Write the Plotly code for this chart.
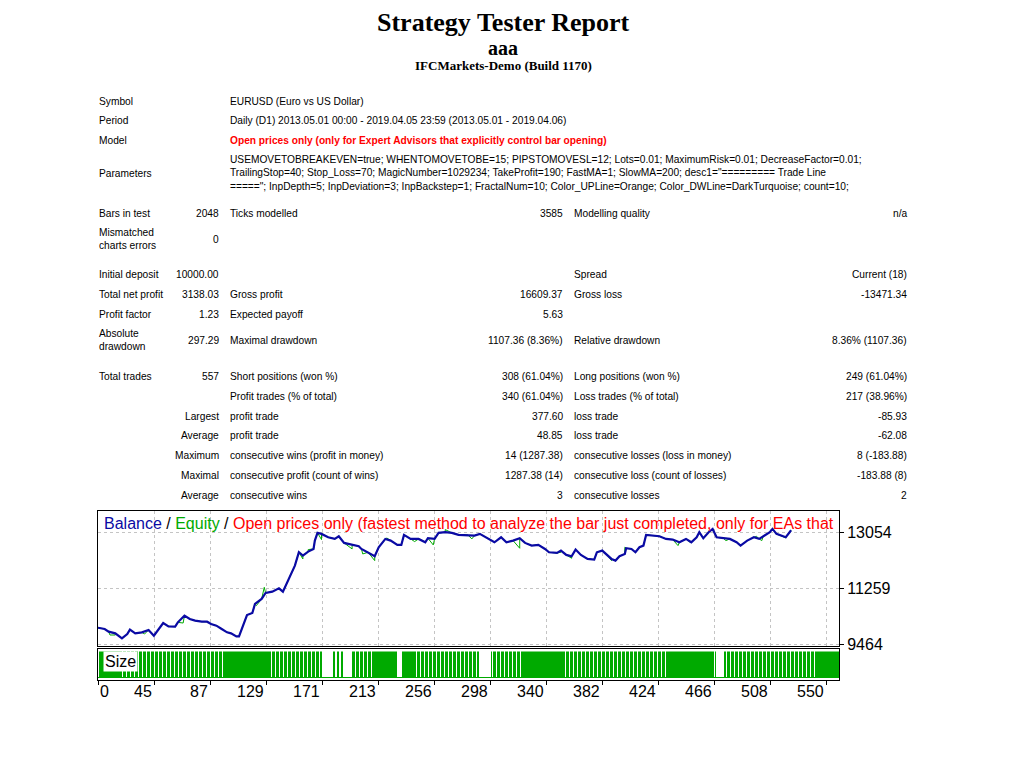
import plotly.graph_objects as go

# ---- report header / table text ----
title_main = "Strategy Tester Report"
title_name = "aaa"
title_server = "IFCMarkets-Demo (Build 1170)"

info_labels = ["Symbol", "Period", "Model", "Parameters"]
info_values = [
    "EURUSD (Euro vs US Dollar)",
    "Daily (D1) 2013.05.01 00:00 - 2019.04.05 23:59 (2013.05.01 - 2019.04.06)",
    "Open prices only (only for Expert Advisors that explicitly control bar opening)",
    "USEMOVETOBREAKEVEN=true; WHENTOMOVETOBE=15; PIPSTOMOVESL=12; Lots=0.01; MaximumRisk=0.01; DecreaseFactor=0.01;<br>"
    "TrailingStop=40; Stop_Loss=70; MagicNumber=1029234; TakeProfit=190; FastMA=1; SlowMA=200; desc1=\"========= Trade Line<br>"
    "=====\"; InpDepth=5; InpDeviation=3; InpBackstep=1; FractalNum=10; Color_UPLine=Orange; Color_DWLine=DarkTurquoise; count=10;",
]

# each row: label, value, label, value, label, value
stat_rows = [
    ["Bars in test", "2048", "Ticks modelled", "3585", "Modelling quality", "n/a"],
    ["Mismatched<br>charts errors", "0", "", "", "", ""],
    ["Initial deposit", "10000.00", "", "", "Spread", "Current (18)"],
    ["Total net profit", "3138.03", "Gross profit", "16609.37", "Gross loss", "-13471.34"],
    ["Profit factor", "1.23", "Expected payoff", "5.63", "", ""],
    ["Absolute<br>drawdown", "297.29", "Maximal drawdown", "1107.36 (8.36%)", "Relative drawdown", "8.36% (1107.36)"],
    ["Total trades", "557", "Short positions (won %)", "308 (61.04%)", "Long positions (won %)", "249 (61.04%)"],
    ["", "", "Profit trades (% of total)", "340 (61.04%)", "Loss trades (% of total)", "217 (38.96%)"],
    ["", "Largest", "profit trade", "377.60", "loss trade", "-85.93"],
    ["", "Average", "profit trade", "48.85", "loss trade", "-62.08"],
    ["", "Maximum", "consecutive wins (profit in money)", "14 (1287.38)", "consecutive losses (loss in money)", "8 (-183.88)"],
    ["", "Maximal", "consecutive profit (count of wins)", "1287.38 (14)", "consecutive loss (count of losses)", "-183.88 (8)"],
    ["", "Average", "consecutive wins", "3", "consecutive losses", "2"],
]

# ---- chart data ----
total_trades = 557
balance_trade = [0, 5, 8, 13, 18, 22, 24, 28, 33, 38, 42, 44, 49, 53, 58, 60, 65, 69, 73, 78,
                 82, 85, 89, 93, 97, 100, 104, 106, 108, 112, 116, 118, 123, 126, 131, 136, 139, 142, 146, 148,
                 151, 154, 158, 162, 163, 165, 168, 173, 178, 181, 185, 191, 196, 198, 203, 208, 211, 216, 220, 225,
                 228, 230, 235, 241, 246, 248, 253, 256, 261, 266, 271, 278, 283, 287, 294, 298, 303, 307, 312, 317,
                 321, 326, 331, 336, 339, 345, 348, 352, 356, 359, 363, 368, 373, 375, 379, 382, 386, 389, 392, 396,
                 397, 401, 404, 407, 410, 412, 418, 422, 427, 432, 437, 442, 446, 450, 452, 455, 459, 462, 465, 470,
                 475, 480, 483, 488, 493, 497, 500, 505, 507, 510, 517, 519, 521]
balance_value = [10000, 9959, 9873, 9820, 9658, 9798, 9938, 9820, 9852, 9927, 9744, 9852, 10152, 10045, 10034, 10174, 10389, 10281, 10228, 10195,
                 10195, 10120, 10066, 9959, 9852, 9820, 9723, 9723, 9959, 10410, 10475, 10765, 10926, 11119, 11162, 11270, 11162, 11442, 11785, 12000,
                 12430, 12323, 12451, 12537, 12806, 13053, 13021, 12913, 12860, 12946, 12731, 12666, 12623, 12537, 12430, 12301, 12591, 12860, 12806, 12666,
                 12666, 12989, 12860, 12860, 12752, 12881, 12860, 13053, 13075, 13053, 12989, 12989, 12967, 13021, 12860, 12752, 12913, 12752, 12806, 12881,
                 12731, 12645, 12666, 12537, 12430, 12408, 12484, 12344, 12301, 12516, 12344, 12215, 12194, 12430, 12484, 12376, 12215, 12161, 12301, 12376,
                 12559, 12537, 12430, 12591, 12645, 12989, 12967, 12946, 12860, 12838, 12752, 12860, 12752, 12913, 13075, 12881, 13075, 13182, 12913, 12881,
                 12860, 12752, 12645, 12806, 12913, 12860, 12946, 13075, 13182, 13021, 12913, 13021, 13138]

# equity dips/peaks that show up in green next to the balance line
equity_spike_trade = [9, 13, 35, 64, 119, 125, 154, 158, 168, 191, 199, 208, 217, 238, 252, 261, 281,
                      317, 348, 356, 386, 396, 436, 445, 472, 495, 499, 517]
equity_spike_value = [9766, 9766, 9798, 10152, 10711, 11302, 12215, 12516, 12838, 12537, 12376, 12161, 12892, 12774, 12666, 13160, 12860,
                      12559, 12430, 12237, 12161, 12591, 12645, 12752, 12806, 12946, 12806, 12892]

# trade ranges where the size histogram shows no bar
size_gaps = [(169, 176), (179, 179), (182, 182), (185, 190), (225, 228), (287, 295), (465, 470)]
lot_size = 0.01

y_tick_vals = [9464, 11259, 13054]
x_tick_labels = ["0", "45", "87", "129", "171", "213", "256", "298", "340", "382", "424", "466", "508", "550"]
x_tick_step = 42.1

BALANCE_C = "#0A0AA4"
EQUITY_C = "#00AA00"
SIZE_C = "#00AA00"

# page geometry: the html body margin puts the figure at (8, 8);
# YFIX makes up for the slight vertical squeeze seen in the screenshots
W, H, OFF, YFIX = 1008, 744, 8, 1.0106


def px(x):
    return (x - OFF) / W


def py(y):
    return 1 - (y - OFF) * YFIX / H


fig = go.Figure()

# equity = balance points plus spikes, sorted by trade
eq = sorted(list(zip(balance_trade, balance_value)) + list(zip(equity_spike_trade, equity_spike_value)))
fig.add_trace(go.Scatter(x=[p[0] for p in eq], y=[p[1] for p in eq], mode="lines",
                         line=dict(color=EQUITY_C, width=1), xaxis="x", yaxis="y", hoverinfo="skip"))
fig.add_trace(go.Scatter(x=balance_trade, y=balance_value, mode="lines",
                         line=dict(color=BALANCE_C, width=2.2), xaxis="x", yaxis="y"))

trades = list(range(1, total_trades + 1))
lots = [0 if any(a <= t <= b for a, b in size_gaps) else lot_size for t in trades]
fig.add_trace(go.Bar(x=trades, y=lots, marker_color=SIZE_C, marker_line_width=0,
                     xaxis="x2", yaxis="y2", hoverinfo="skip"))

x_tick_pos = [k * x_tick_step for k in range(len(x_tick_labels))]
tick_font = dict(family="Liberation Sans, Arial", size=16, color="black")
grid = dict(showgrid=True, gridcolor="#C4C4C4", griddash="3px,3px", gridwidth=1)

fig.update_layout(
    width=W, height=H, autosize=False,
    margin=dict(l=0, r=0, t=0, b=0),
    paper_bgcolor="white", plot_bgcolor="white",
    font=dict(color="black"),
    showlegend=False, bargap=0.92,
    xaxis=dict(domain=[px(98), px(839)], range=[0, total_trades], tickvals=x_tick_pos,
               showticklabels=False, ticks="", showline=True, mirror=True, linecolor="black",
               linewidth=1, zeroline=False, anchor="y", **grid),
    yaxis=dict(domain=[py(645), py(510)], range=[9422, 13773], tickvals=y_tick_vals,
               ticktext=[str(v) for v in y_tick_vals], side="right", ticks="outside", ticklen=4,
               tickcolor="black", tickfont=tick_font, showline=True, mirror=True, linecolor="black",
               linewidth=1, zeroline=False, anchor="x", **grid),
    xaxis2=dict(domain=[px(98), px(839)], range=[0, total_trades], tickvals=x_tick_pos,
                showticklabels=False, ticks="outside", ticklen=4, tickcolor="black", showgrid=False,
                showline=True, mirror=True, linecolor="black", linewidth=1, zeroline=False, anchor="y2"),
    yaxis2=dict(domain=[py(679), py(648)], range=[-0.00087, 0.01103], showticklabels=False,
                ticks="", showgrid=False, showline=True, mirror=True, linecolor="black", linewidth=1,
                zeroline=True, zerolinecolor=SIZE_C, zerolinewidth=1, anchor="x2"),
)

ann = []
serif = "Liberation Serif, Times New Roman"
sans = "Liberation Sans, Arial"
head = dict(borderpad=0, borderwidth=0)
ann.append(dict(text="<b>%s</b>" % title_main, x=px(503), y=1, yanchor="top",
                font=dict(family=serif, size=26, color="black"), **head))
ann.append(dict(text="<b>%s</b>" % title_name, x=px(503), y=py(47.8),
                font=dict(family=serif, size=20, color="black"), **head))
ann.append(dict(text="<b>%s</b>" % title_server, x=px(503), y=py(65.5),
                font=dict(family=serif, size=13, color="black"), **head))

tf = dict(family=sans, size=10.2, color="black")
info_y = [101, 120, 140, 173]
for lab, val, yy in zip(info_labels, info_values, info_y):
    ann.append(dict(text=lab, x=px(97), y=py(yy), xanchor="left", font=tf))
    f = dict(tf)
    if lab == "Model":
        val = "<b>%s</b>" % val
        f["color"] = "#FF0000"
    ann.append(dict(text=val, x=px(228), y=py(yy), xanchor="left", align="left", font=f))

stat_y = [213, 239, 274, 294, 314, 340, 376, 396, 416, 435, 455, 475, 495]
col_x = [97, 221, 228, 565, 572, 909]
col_anchor = ["left", "right", "left", "right", "left", "right"]
for row, yy in zip(stat_rows, stat_y):
    for txt, cx, anc in zip(row, col_x, col_anchor):
        if txt:
            ann.append(dict(text=txt, x=px(cx), y=py(yy), xanchor=anc, align="left", font=tf))

# chart caption
cap = ('<span style="color:%s">Balance</span> / <span style="color:%s">Equity</span> / '
       '<span style="color:#FF0000">Open prices only (fastest method to analyze the bar just completed, '
       'only for EAs that</span>') % (BALANCE_C, EQUITY_C)
ann.append(dict(text=cap, x=px(102), y=py(523), xanchor="left",
                font=dict(family=sans, size=16, color="black")))

# size panel label
ann.append(dict(text="Size", x=px(103), y=py(661), xanchor="left", bgcolor="white", borderpad=1,
                font=dict(family=sans, size=16, color="black")))

# x tick labels, right aligned on the tick (MT4 style)
for k, (lab, pos) in enumerate(zip(x_tick_labels, x_tick_pos)):
    ann.append(dict(text=lab, x=pos, xref="x2", y=py(691), yref="paper",
                    xanchor="left" if k == 0 else "right", font=tick_font))

for a in ann:
    a.setdefault("xref", "paper")
    a.setdefault("yref", "paper")
    a.setdefault("yanchor", "middle")
    a.setdefault("showarrow", False)
    a.setdefault("xanchor", "center")
fig.update_layout(annotations=ann)

fig.write_html("out.html")
